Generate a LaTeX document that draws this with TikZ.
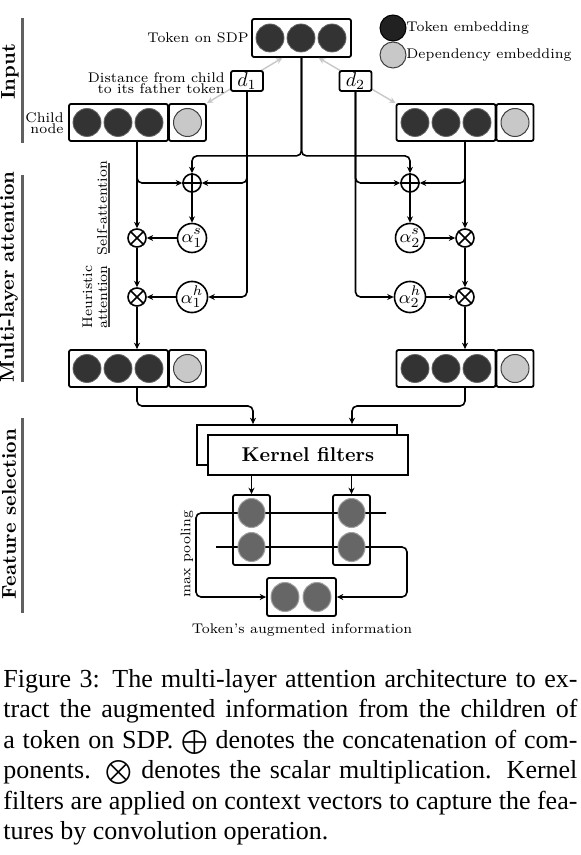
\documentclass[tikz,border=0pt]{standalone}
\usepackage{amsmath}
\usepackage{fontspec}
\newfontfamily\capfont{Liberation Serif}
\usetikzlibrary{arrows.meta,backgrounds,calc,shapes.geometric}

\definecolor{tokc}{HTML}{333333}
\definecolor{depc}{HTML}{C8C8C8}
\definecolor{poolc}{HTML}{666666}
\definecolor{secc}{HTML}{606060}

\tikzset{
 box/.style={draw, line width=0.9pt, rounded corners=1pt, inner sep=0pt, fill=white},
 tokdot/.style={circle, fill=tokc, draw=black!60, line width=0.4pt, minimum size=14pt, inner sep=0pt},
 depdot/.style={circle, fill=depc, draw=black!75, line width=0.5pt, minimum size=14pt, inner sep=0pt},
 pooldot/.style={ellipse, fill=poolc, draw=gray!75, line width=0.5pt, minimum width=13.5pt, minimum height=14.5pt, inner sep=0pt},
 opnode/.style={circle, draw, line width=0.8pt, minimum size=9pt, inner sep=0pt, fill=white},
 attnode/.style={circle, draw, line width=0.8pt, minimum size=14.5pt, inner sep=0pt, fill=white, font=\fontsize{9.5}{11}\selectfont},
 conn/.style={line width=0.8pt, -{Stealth[length=3.2pt,width=3pt]}, rounded corners=2.5pt},
 grayconn/.style={line width=0.7pt, draw=depc, {Stealth[length=3.2pt,width=3pt]}-{Stealth[length=3.2pt,width=3pt]}},
 small/.style={font=\fontsize{7}{5.5}\selectfont, inner sep=0pt},
 seclabel/.style={font=\fontsize{10}{12}\selectfont\bfseries, rotate=90, inner sep=0pt},
 secline/.style={line width=1.5pt, draw=secc},
 subline/.style={line width=0.9pt, draw=black!75},
}

\begin{document}
\begin{tikzpicture}[x=0.5pt,y=-0.5pt]
\useasboundingbox (0,0) rectangle (580,855);

% ---------- section labels
\node[seclabel] (secin) at (10,72) {Input};
\draw[secline] (22,18) -- (22,143);
\node[seclabel] (secma) at (9,277) {Multi-layer attention};
\draw[secline] (22,175) -- (22,382);
\node[seclabel] (secfs) at (9,514) {Feature selection};
\draw[secline] (22,418) -- (22,613);

% ---------- token on SDP
\node[box, minimum width=49.5pt, minimum height=19pt] (tok) at (301.5,38) {};
\foreach \i/\x in {1/270,2/301,3/332} \node[tokdot] (tk\i) at (\x,38) {};
\node[small, anchor=east] (toklbl) at (249,38) {Token on SDP};

% ---------- legend
\node[circle, fill=black!87, draw=black, line width=0.5pt, minimum size=13pt, inner sep=0pt] (legt) at (393,28) {};
\node[small, anchor=west] (legtl) at (406,28) {Token embedding};
\node[depdot, minimum size=13pt] (legd) at (393,55) {};
\node[small, anchor=west] (legdl) at (406,55) {Dependency embedding};

% ---------- children
\node[box, minimum width=49.5pt, minimum height=18.5pt] (c1) at (118.5,122.5) {};
\node[box, minimum width=18.5pt, minimum height=18.5pt] (c1d) at (187.5,122.5) {};
\foreach \i/\x in {1/87,2/118,3/149} \node[tokdot] (c1t\i) at (\x,122.5) {};
\node[depdot] (c1dd) at (c1d) {};
\node[small, anchor=east, align=right] (clbl) at (64,123) {Child\\node};

\node[box, minimum width=49.5pt, minimum height=18.5pt] (c2) at (446,122.5) {};
\node[box, minimum width=18.5pt, minimum height=18.5pt] (c2d) at (515,122.5) {};
\foreach \i/\x in {1/415,2/446,3/477} \node[tokdot] (c2t\i) at (\x,122.5) {};
\node[depdot] (c2dd) at (c2d) {};

% ---------- gray links and distances
\draw[grayconn] ($(tok.south west)!0.31!(tok.south east)$) -- (c1d.north east);
\draw[grayconn] ($(tok.south west)!0.67!(tok.south east)$) -- (c2.north west);
\node[box, minimum width=16pt, minimum height=10pt, font=\fontsize{10}{12}\selectfont] (d1) at (247,81) {$d_1$};
\node[box, minimum width=16pt, minimum height=10pt, font=\fontsize{10}{12}\selectfont] (d2) at (355.5,81) {$d_2$};
\node[small, anchor=east, align=right] (dlbl) at (225,83) {Distance from child\\to its father token};

% ---------- attention operators
\node[opnode] (p1) at (192,183) {};
\node[opnode] (p2) at (410,183) {};
\foreach \n in {p1,p2} \draw[line width=0.8pt] (\n.north) -- (\n.south) (\n.west) -- (\n.east);
\node[opnode] (x1s) at (137,238) {};
\node[opnode] (x1h) at (137,297) {};
\node[opnode] (x2s) at (465,238) {};
\node[opnode] (x2h) at (465,297) {};
\foreach \n in {x1s,x1h,x2s,x2h} \draw[line width=0.8pt] (\n.north west) -- (\n.south east) (\n.north east) -- (\n.south west);
\node[attnode] (a1s) at (192,238) {$\alpha_1^s$};
\node[attnode] (a1h) at (192,297) {$\alpha_1^h$};
\node[attnode] (a2s) at (410,238) {$\alpha_2^s$};
\node[attnode] (a2h) at (410,297) {$\alpha_2^h$};

\node[small, rotate=90] (sa) at (102,208) {Self-attention};
\draw[subline] (109,163) -- (109,253);
\node[small, rotate=90, align=center, font=\fontsize{7}{7.5}\selectfont] (ha) at (95,297) {Heuristic\\attention};
\draw[subline] (109,268) -- (109,327);

% ---------- outputs
\node[box, minimum width=49.5pt, minimum height=18.5pt] (o1) at (118.5,368.5) {};
\node[box, minimum width=18.5pt, minimum height=18.5pt] (o1d) at (187.5,368.5) {};
\foreach \i/\x in {1/87,2/118,3/149} \node[tokdot] (o1t\i) at (\x,368.5) {};
\node[depdot] (o1dd) at (o1d) {};
\node[box, minimum width=49.5pt, minimum height=18.5pt] (o2) at (446,368.5) {};
\node[box, minimum width=18.5pt, minimum height=18.5pt] (o2d) at (515,368.5) {};
\foreach \i/\x in {1/415,2/446,3/477} \node[tokdot] (o2t\i) at (\x,368.5) {};
\node[depdot] (o2dd) at (o2d) {};

% ---------- connectors (attention)
\coordinate (split) at ($(tok.south)+(0,98)$);
\draw[conn] (tok.south) -- (split) -| (p1.north);
\draw[conn] (tok.south) -- (split) -| (p2.north);

\draw[conn] (c1.south -| x1s) -- (x1s.north);
\draw[conn] (c1.south -| x1s) |- (p1.west);
\draw[conn] (d1.south) |- (p1.east);
\draw[conn] (d1.south) |- (a1h.east);
\draw[conn] (p1) -- (a1s);
\draw[conn] (a1s) -- (x1s);
\draw[conn] (x1s) -- (x1h);
\draw[conn] (a1h) -- (x1h);
\draw[conn] (x1h) -- (o1.north -| x1h);

\draw[conn] (c2.south -| x2s) -- (x2s.north);
\draw[conn] (c2.south -| x2s) |- (p2.east);
\draw[conn] (d2.south) |- (p2.west);
\draw[conn] (d2.south) |- (a2h.west);
\draw[conn] (p2) -- (a2s);
\draw[conn] (a2s) -- (x2s);
\draw[conn] (x2s) -- (x2h);
\draw[conn] (a2h) -- (x2h);
\draw[conn] (x2h) -- (o2.north -| x2h);

% ---------- kernel filters
\node[box, rounded corners=0pt, minimum width=100pt, minimum height=20pt] (kb) at (297,445) {};
\node[box, rounded corners=0pt, minimum width=100pt, minimum height=20pt, font=\fontsize{10}{12}\selectfont\bfseries] (kf) at (308,455) {Kernel filters};
\coordinate (ka1) at (253,406);
\coordinate (ka2) at (352,406);
\draw[conn] (o1.south -| x1h) |- (ka1) -- (ka1 |- kb.north);
\draw[conn] (o2.south -| x2h) |- (ka2) -- (ka2 |- kb.north);

% ---------- pooling
\node[box, fill=none, minimum width=18.5pt, minimum height=35pt] (col1) at (251.5,530) {};
\node[box, fill=none, minimum width=18.5pt, minimum height=35pt] (col2) at (351.5,530) {};
\node[pooldot] (q11) at (251.5,513) {};
\node[pooldot] (q12) at (251.5,547) {};
\node[pooldot] (q21) at (351.5,513) {};
\node[pooldot] (q22) at (351.5,547) {};
\draw[conn] (kf.south -| col1) -- (col1.north);
\draw[conn] (kf.south -| col2) -- (col2.north);

\node[box, minimum width=34.5pt, minimum height=19pt] (ob) at (301.5,597) {};
\node[pooldot, minimum width=14pt] (r1) at (285,597) {};
\node[pooldot, minimum width=14pt] (r2) at (317,597) {};

\coordinate (t1end) at (386,513);
\coordinate (t1c) at (196,513);
\coordinate (t2start) at (216,547);
\coordinate (t2c) at (407,547);
\begin{scope}[on background layer]
\fill[white] (0,0) rectangle (580,855);
\draw[conn] (t1end) -- (t1c) |- (ob.west);
\draw[conn] (t2start) -- (t2c) |- (ob.east);
\end{scope}

\node[small, rotate=90] (mp) at (187,554) {max pooling};
\node[small] (tai) at (302,630) {Token's augmented information};

% ---------- caption
\node[anchor=north west, inner sep=0pt, font=\capfont\fontsize{13}{15.25}\selectfont] (cap) at (3,669) {\vbox{%
\hbox to 287pt{Figure 3: The multi-layer attention architecture to ex-}%
\hbox to 287pt{tract the augmented information from the children of}%
\hbox to 287pt{a token on SDP. $\bigoplus$ denotes the concatenation of com-}%
\hbox to 287pt{ponents. $\bigotimes$ denotes the scalar multiplication. Kernel}%
\hbox to 287pt{filters are applied on context vectors to capture the fea-}%
\hbox to 287pt{tures by convolution operation.\hfil}}};
\end{tikzpicture}
\end{document}
